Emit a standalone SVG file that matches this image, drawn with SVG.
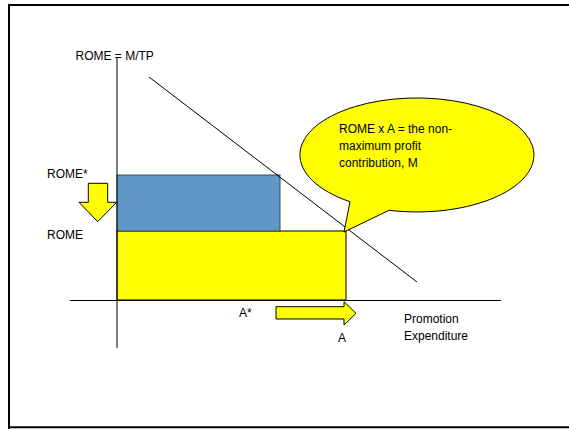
<svg xmlns="http://www.w3.org/2000/svg" width="569" height="429" viewBox="0 0 569 429">
<style>
text{font-family:"Liberation Sans",Arial,sans-serif;font-size:12px;fill:#000}
.ln{stroke:#000;stroke-width:1;fill:none}
.yel{fill:#ffff00;stroke:#000;stroke-width:1}
</style>
<rect width="569" height="429" fill="#fff"/>
<g id="frame">
<path d="M9,429 V5 H569 M8,427.3 H569" fill="none" stroke="#000" stroke-width="2"/>
</g>
<g id="rect-yellow"><rect class="yel" x="117" y="231" width="229" height="69"/></g>
<g id="rect-blue"><rect x="117" y="175" width="163" height="56" fill="#6196c9" stroke="#3c4a5a" stroke-width="1"/></g>
<g id="connectors">
<line class="ln" x1="117" y1="57" x2="117" y2="348"/>
<line class="ln" x1="70" y1="300.5" x2="501" y2="300.5"/>
<line class="ln" x1="149" y1="77" x2="417" y2="282"/>
</g>
<g id="callout">
<path class="yel" d="M350,201.7 L344,232 L389,210.3 A117,57 0 1 0 350,201.7 Z"/>
<text x="339" y="133">ROME x A = the non-</text>
<text x="339" y="150">maximum profit</text>
<text x="339" y="167">contribution, M</text>
</g>
<g id="arrow-down"><path class="yel" d="M88.3,183.3 H107.7 V202.3 H116.7 L97.7,221.7 L79,202.3 H88.3 Z"/></g>
<g id="arrow-right"><path class="yel" d="M276,306.7 H344 V301.7 L356,313.3 L344,325 V319 H276 Z"/></g>
<g id="labels">
<text x="75.5" y="60">ROME = M/TP</text>
<text x="47" y="178">ROME*</text>
<text x="47" y="239">ROME</text>
<text x="239" y="317">A*</text>
<text x="338" y="342">A</text>
<text x="404" y="323">Promotion</text>
<text x="404" y="340">Expenditure</text>
</g>
</svg>
